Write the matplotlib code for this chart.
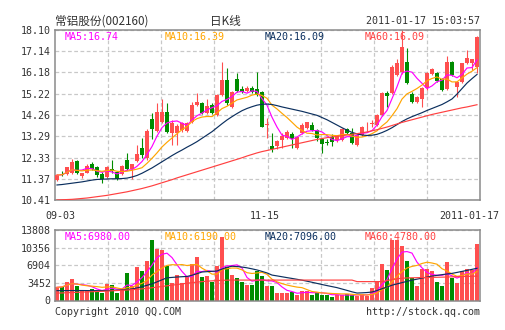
import matplotlib
matplotlib.use('Agg')
import matplotlib.pyplot as plt
import numpy as np
import pandas as pd
from matplotlib.transforms import blended_transform_factory

# ---------------- data ----------------
date_labels = ['09-03', '11-15', '2011-01-17']
date_label_idx = [0, 41, 84]

opens = [11.31, 11.58, 11.59, 11.62, 12.19, 11.50, 11.65, 12.04, 11.92, 11.57,
         11.44, 11.81, 11.69, 11.59, 12.22, 11.81, 12.19, 12.75, 12.30, 14.07,
         13.55, 13.95, 14.40, 13.43, 13.45, 13.58, 13.55, 13.95, 14.71, 14.78,
         14.36, 14.71, 14.25, 15.16, 15.84, 14.60, 15.87, 15.45, 15.34, 15.46,
         15.42, 15.31, 13.82, 12.85, 12.85, 13.12, 13.20, 13.39, 12.75, 13.46,
         13.65, 13.80, 13.58, 13.15, 13.05, 13.25, 13.12, 13.12, 13.61, 13.43,
         12.92, 13.35, 13.74, 13.86, 13.80, 14.25, 15.27, 15.24, 16.06, 16.22,
         16.67, 15.21, 14.86, 14.96, 15.46, 16.11, 16.17, 15.87, 15.42, 16.67,
         15.54, 15.76, 16.59, 16.59, 16.44]
highs = [11.58, 11.72, 11.92, 12.25, 12.20, 11.64, 12.05, 12.13, 11.95, 11.66,
         11.97, 12.22, 11.72, 12.00, 12.55, 12.06, 12.90, 13.20, 13.62, 14.36,
         14.81, 14.98, 14.81, 14.03, 13.85, 13.92, 13.95, 14.83, 15.27, 14.85,
         14.96, 14.78, 15.20, 16.67, 16.37, 15.35, 16.14, 15.55, 15.55, 15.55,
         16.22, 15.35, 14.10, 13.45, 13.12, 13.43, 13.58, 13.50, 13.30, 13.91,
         13.95, 13.95, 13.62, 13.20, 13.15, 13.40, 13.35, 13.65, 13.68, 13.65,
         13.40, 13.78, 13.95, 14.05, 14.30, 15.30, 15.32, 16.50, 16.80, 18.10,
         17.27, 15.30, 15.10, 15.50, 16.20, 16.40, 16.22, 15.92, 16.92, 16.72,
         15.80, 16.62, 17.20, 16.80, 17.85]
lows = [11.27, 11.48, 11.54, 11.58, 11.58, 11.42, 11.62, 11.75, 11.47, 11.19,
        11.40, 11.65, 11.32, 11.55, 11.78, 11.35, 12.15, 12.31, 12.20, 13.17,
        13.50, 13.90, 13.45, 12.90, 12.88, 13.50, 13.50, 13.88, 14.65, 14.28,
        14.30, 14.30, 14.20, 15.10, 14.70, 14.55, 15.30, 15.25, 15.28, 15.25,
        15.10, 13.70, 13.20, 12.60, 12.70, 12.75, 13.15, 12.75, 12.70, 13.40,
        13.60, 13.55, 13.10, 12.55, 12.90, 12.85, 13.05, 13.08, 13.40, 12.95,
        12.85, 13.30, 13.55, 13.70, 13.75, 14.20, 14.63, 15.20, 16.00, 16.10,
        15.65, 14.80, 14.80, 14.60, 15.40, 16.05, 15.75, 15.35, 15.38, 16.00,
        15.05, 15.70, 16.55, 16.30, 16.14]
closes = [11.54, 11.56, 11.89, 12.13, 11.62, 11.62, 11.96, 11.82, 11.55, 11.38,
          11.92, 11.72, 11.38, 11.96, 11.81, 12.04, 12.49, 12.45, 13.55, 13.62,
          14.40, 14.40, 13.50, 13.88, 13.75, 13.88, 13.91, 14.71, 14.86, 14.33,
          14.66, 14.36, 15.16, 15.84, 14.78, 15.31, 15.36, 15.30, 15.46, 15.31,
          15.16, 13.73, 13.85, 12.72, 13.09, 13.32, 13.47, 13.15, 13.27, 13.80,
          13.92, 13.58, 13.20, 12.94, 12.98, 13.05, 13.30, 13.61, 13.43, 13.00,
          13.35, 13.73, 13.76, 13.90, 14.25, 15.27, 15.11, 16.44, 16.59, 17.35,
          15.72, 14.86, 15.05, 15.46, 16.17, 16.32, 15.81, 15.39, 16.67, 16.06,
          15.76, 16.59, 16.82, 16.77, 17.80]
volumes = [2590, 2720, 3720, 4120, 2920, 2060, 2060, 2320, 1930, 1400,
           3250, 3120, 1400, 2060, 5310, 2860, 6510, 5710, 7700, 11890,
           10090, 9890, 6770, 3390, 4910, 3520, 4580, 7100, 8570, 4510,
           4710, 3590, 6710, 12400, 6570, 4910, 4320, 3720, 3000, 2990,
           5780, 4780, 2790, 2790, 1460, 1460, 1460, 1600, 1130, 1930,
           1930, 1060, 1600, 1130, 1130, 730, 1130, 1130, 1260, 1060,
           930, 1260, 930, 2460, 3790, 7240, 5910, 11820, 11820, 10620,
           7770, 4380, 2920, 6240, 6240, 5710, 3590, 2920, 7570, 4450,
           3390, 5710, 6240, 5910, 11090]
price_ma20 = [11.09, 11.11, 11.14, 11.17, 11.20, 11.23, 11.27, 11.31, 11.34, 11.35,
              11.36, 11.37, 11.37, 11.38, 11.40, 11.45, 11.52, 11.62, 11.74, 11.86,
              12.00, 12.14, 12.28, 12.42, 12.55, 12.67, 12.80, 12.92, 13.05, 13.20,
              13.35, 13.50, 13.68, 13.86, 14.03, 14.18, 14.32, 14.45, 14.55, 14.63,
              14.70, 14.74, 14.75, 14.73, 14.68, 14.62, 14.57, 14.52, 14.47, 14.42,
              14.36, 14.30, 14.24, 14.14, 14.04, 13.92, 13.80, 13.68, 13.57, 13.47,
              13.40, 13.35, 13.33, 13.34, 13.38, 13.46, 13.56, 13.68, 13.82, 13.96,
              14.08, 14.18, 14.27, 14.36, 14.46, 14.55, 14.64, 14.73, 14.85, 14.98,
              15.20, 15.45, 15.70, 15.90, 16.09]
price_ma60 = [10.41, 10.42, 10.43, 10.44, 10.46, 10.48, 10.50, 10.53, 10.56, 10.59,
              10.62, 10.66, 10.70, 10.74, 10.78, 10.83, 10.88, 10.93, 10.99, 11.05,
              11.12, 11.19, 11.26, 11.33, 11.41, 11.48, 11.55, 11.62, 11.69, 11.76,
              11.83, 11.90, 11.97, 12.04, 12.11, 12.18, 12.25, 12.32, 12.40, 12.47,
              12.54, 12.60, 12.65, 12.70, 12.75, 12.80, 12.85, 12.90, 12.95, 13.00,
              13.05, 13.10, 13.15, 13.19, 13.23, 13.26, 13.29, 13.32, 13.35, 13.38,
              13.41, 13.45, 13.49, 13.54, 13.59, 13.65, 13.71, 13.78, 13.85, 13.92,
              13.98, 14.04, 14.10, 14.16, 14.22, 14.28, 14.33, 14.38, 14.43, 14.48,
              14.53, 14.58, 14.62, 14.67, 14.72]
vol_ma20 = [1930, 1930, 1940, 1950, 1950, 1950, 1940, 1930, 1930, 1930,
            1950, 1980, 2020, 2080, 2160, 2260, 2450, 2700, 2980, 3250,
            3650, 4050, 4450, 4520, 4600, 4660, 4710, 4950, 5250, 5580,
            5650, 5720, 5780, 6150, 6500, 6710, 6650, 6550, 6400, 6200,
            5980, 5700, 5400, 4980, 4820, 4650, 4480, 4320, 4150, 3980,
            3780, 3570, 3350, 3130, 2920, 2720, 2520, 2250, 1980, 1700,
            1460, 1500, 1560, 1660, 1950, 2300, 2650, 2990, 3250, 3500,
            3750, 3980, 4180, 4380, 4580, 4780, 4920, 5060, 5190, 5310,
            5500, 5700, 5900, 6100, 6310]
vol_ma60 = [1450, 1480, 1520, 1560, 1600, 1640, 1680, 1720, 1760, 1800,
            1850, 1900, 1950, 2000, 2060, 2120, 2200, 2280, 2380, 2500,
            2620, 2750, 2880, 3000, 3120, 3250, 3380, 3500, 3600, 3700,
            3780, 3850, 3900, 3950, 3980, 4000, 4000, 4000, 4000, 4000,
            4000, 4000, 4000, 4000, 4000, 4000, 4000, 4000, 4000, 4000,
            4000, 4000, 4000, 4000, 4000, 4000, 4000, 4000, 4000, 4000,
            3700, 3700, 3700, 3700, 3700, 3700, 3900, 4100, 4250, 4350,
            4420, 4450, 4470, 4490, 4510, 4530, 4550, 4570, 4600, 4630,
            4660, 4690, 4720, 4750, 4780]

price_ticks = [10.41, 11.37, 12.33, 13.29, 14.26, 15.22, 16.18, 17.14, 18.10]
vol_ticks = [0, 3452, 6904, 10356, 13808]

price_legend = ['MA5:16.74', 'MA10:16.39', 'MA20:16.09', 'MA60:16.09']
vol_legend = ['MA5:6980.00', 'MA10:6190.00', 'MA20:7096.00', 'MA60:4780.00']
title_left = '常铝股份(002160)'
title_mid = '日K线'
title_right = '2011-01-17 15:03:57'
foot_left = 'Copyright 2010 QQ.COM'
foot_right = 'http://stock.qq.com'

# ---------------- styling ----------------
W, H = 505, 330
RED = '#ff4f4f'
GREEN = '#008c00'
MA_COLORS = ['#ff00ff', '#ffa500', '#0b2f5e', '#ff4040']
GRID = '#c8c8c8'
SPINE = '#8a8a8a'
TXT = '#333333'
MONO = 'DejaVu Sans Mono'
FS = 7.2

fig = plt.figure(figsize=(W / 100, H / 100), dpi=100)
fig.patch.set_facecolor('white')


def fx(px):
    return px / W


def fy(py):
    return 1 - py / H


ax = fig.add_axes([fx(55), fy(200), fx(425), 170 / H])
axv = fig.add_axes([fx(55), fy(300.5), fx(425), 70.5 / H])

n = len(closes)
x = np.arange(n)
o = np.array(opens)
c = np.array(closes)
hi = np.array(highs)
lo = np.array(lows)
v = np.array(volumes)
colors = np.where(c >= o, RED, GREEN)

xmin, xmax = -0.4, n - 0.4
vgrid = [xmin + k * (xmax - xmin) / 8 for k in range(1, 8)]

for a in (ax, axv):
    a.set_xlim(xmin, xmax)
    a.set_xticks(vgrid)
    a.set_xticklabels([])
    a.set_axisbelow(True)
    a.grid(True, color=GRID, linestyle=(0, (3, 2)), linewidth=0.9)
    a.tick_params(length=0, labelsize=FS, labelcolor=TXT, pad=3)
    for s in a.spines.values():
        s.set_color(SPINE)
        s.set_linewidth(1.1)
    for lab in a.get_yticklabels():
        lab.set_family(MONO)

# price panel
ax.set_ylim(price_ticks[0], price_ticks[-1])
ax.set_yticks(price_ticks)
ax.set_yticklabels(['%.2f' % t for t in price_ticks], family=MONO)

body_bottom = np.minimum(o, c)
body_h = np.maximum(np.abs(c - o), 0.025)
ax.vlines(x, lo, hi, colors=colors, linewidth=0.8, zorder=2)
ax.bar(x, body_h, bottom=body_bottom, width=0.8, color=colors, linewidth=0, zorder=3)

cs = pd.Series(closes)
p_ma = [cs.rolling(5, min_periods=1).mean(), cs.rolling(10, min_periods=1).mean(),
        price_ma20, price_ma60]
for m, col in zip(p_ma, MA_COLORS):
    ax.plot(x, m, color=col, linewidth=0.85, zorder=4)

# volume panel
axv.set_ylim(vol_ticks[0], vol_ticks[-1])
axv.set_yticks(vol_ticks)
axv.set_yticklabels([str(t) for t in vol_ticks], family=MONO)
axv.bar(x, v, width=0.8, color=colors, linewidth=0, zorder=2)
vs = pd.Series(volumes)
v_ma = [vs.rolling(5, min_periods=1).mean(), vs.rolling(10, min_periods=1).mean(),
        vol_ma20, vol_ma60]
for m, col in zip(v_ma, MA_COLORS):
    axv.plot(x, m, color=col, linewidth=0.85, zorder=4)

# legends
leg_x = [65, 165, 265, 365]
for t, col, lx in zip(price_legend, MA_COLORS, leg_x):
    ax.text(fx(lx), fy(37), t, transform=fig.transFigure, color=col, fontsize=FS,
            family=MONO, ha='left', va='center', zorder=1, clip_on=False)
for t, col, lx in zip(vol_legend, MA_COLORS, leg_x):
    axv.text(fx(lx), fy(237), t, transform=fig.transFigure, color=col, fontsize=FS,
             family=MONO, ha='left', va='center', zorder=1, clip_on=False)

# date labels
trans = blended_transform_factory(ax.transData, fig.transFigure)
ax.text(date_label_idx[0] + 0.6, fy(216), date_labels[0], transform=trans, fontsize=FS,
        family=MONO, color=TXT, ha='center', va='center', clip_on=False)
ax.text(date_label_idx[1] + 0.6, fy(216), date_labels[1], transform=trans, fontsize=FS,
        family=MONO, color=TXT, ha='center', va='center', clip_on=False)
ax.text(date_label_idx[2] + 4.4, fy(216), date_labels[2], transform=trans, fontsize=FS,
        family=MONO, color=TXT, ha='right', va='center', clip_on=False)

# header & footer
fig.text(fx(55), fy(21), title_left, fontsize=8.4, color=TXT,
         family=['Noto Sans CJK SC', 'DejaVu Sans'], ha='left', va='center')
fig.text(fx(225), fy(21), title_mid, fontsize=8.4, color=TXT,
         family=['Noto Sans CJK SC', 'DejaVu Sans'], ha='center', va='center')
fig.text(fx(480), fy(21), title_right, fontsize=FS, color=TXT, family=MONO,
         ha='right', va='center')
fig.text(fx(55), fy(312), foot_left, fontsize=FS, color=TXT, family=MONO,
         ha='left', va='center')
fig.text(fx(480), fy(312), foot_right, fontsize=FS, color=TXT, family=MONO,
         ha='right', va='center')

fig.savefig('out.png', dpi=100, facecolor='white')
